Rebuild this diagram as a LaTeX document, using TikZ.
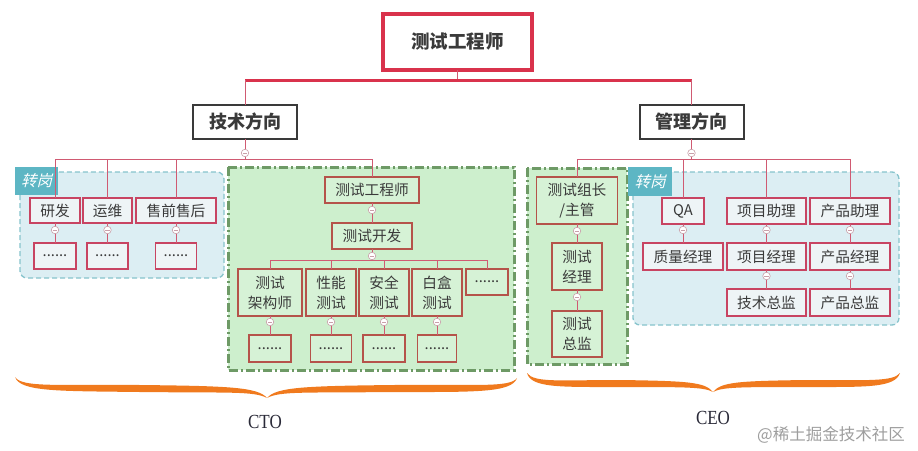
\documentclass[tikz,border=0pt]{standalone}
\usepackage{fontspec}
\setmainfont{Liberation Serif}
\newfontfamily\cjk{Noto Sans CJK SC}
\newfontfamily\cjksl[FakeSlant=0.25]{Noto Sans CJK SC}
\usetikzlibrary{calc}
\definecolor{topred}{HTML}{D9324C}
\definecolor{lnk}{HTML}{D05A72}
\definecolor{boxred}{HTML}{C84462}
\definecolor{boxfill}{HTML}{EEF4F6}
\definecolor{bluefill}{HTML}{DCEEF3}
\definecolor{blueline}{HTML}{86C3CC}
\definecolor{tagfill}{HTML}{5DB6C4}
\definecolor{gfill}{HTML}{CDEFCD}
\definecolor{gline}{HTML}{6E9A66}
\definecolor{gred}{HTML}{B5534A}
\definecolor{gboxfill}{HTML}{D6F2D6}
\definecolor{txt}{HTML}{3A3A3A}
\definecolor{lbltxt}{HTML}{2A2A38}
\definecolor{braceor}{HTML}{F07A1E}
\definecolor{mcol}{HTML}{C9A0AA}
\begin{document}
\begin{tikzpicture}[x=1pt,y=-1pt,
  box/.style={draw=boxred, fill=boxfill, line width=1.1pt, inner sep=0pt, outer sep=0pt,
    font={\cjk\fontsize{14.7}{20}\selectfont}, text=txt, align=center},
  gbox/.style={box, draw=gred, fill=gboxfill},
  sz/.style 2 args={minimum width=#1, minimum height=#2},
  lvl1/.style={draw=txt, fill=white, line width=2pt, inner sep=0pt, outer sep=0pt,
    font={\cjk\bfseries\fontsize{18}{22}\selectfont}, text=txt, minimum width=104, minimum height=34},
  topbox/.style={draw=topred, fill=white, line width=4pt, inner sep=0pt, outer sep=0pt,
    font={\cjk\bfseries\fontsize{18.5}{22}\selectfont}, text=txt, minimum width=149, minimum height=56},
  conn/.style={draw=lnk, line width=1pt},
  minus/.style={circle, draw=mcol, fill=white, minimum size=7.5pt, inner sep=0pt, line width=0.6pt,
    path picture={\draw[mcol, line width=0.6pt] ([xshift=1.6pt]path picture bounding box.west) -- ([xshift=-1.6pt]path picture bounding box.east);}},
  tag/.style={fill=tagfill, text=white, inner sep=0pt, outer sep=0pt,
    font={\cjksl\fontsize{15.5}{18}\selectfont}},
  bluereg/.style={draw=blueline, fill=bluefill, dashed, dash pattern=on 5pt off 3pt, line width=1.3pt, rounded corners=7pt},
  greenreg/.style={draw=gline, fill=gfill, line width=3pt, dash pattern=on 9pt off 3pt on 2pt off 3pt},
  bracefill/.style={fill=braceor, draw=none},
  lbl/.style={font={\fontsize{20}{22}\selectfont}, text=lbltxt, inner sep=0pt, xscale=0.85},
]
\useasboundingbox (0,0) rectangle (918,450);

% ---------- regions ----------
\draw[bluereg] (20,172) rectangle (224,278);
\draw[greenreg] (228,167) rectangle (514,370);
\draw[greenreg] (527,168) rectangle (627,364);
\draw[bluereg] (633,172) rectangle (899,325);
\node[tag, minimum width=43, minimum height=28] (tagL) at (36.5,181) {转岗};
\node[tag, minimum width=44, minimum height=29] (tagR) at (650,181.5) {转岗};

% ---------- nodes ----------
\node[topbox] (top) at (457.5,42) {测试工程师};
\node[lvl1] (tech) at (245,122) {技术方向};
\node[lvl1] (mgmt) at (691.5,122) {管理方向};

% left blue
\node[box, sz={50}{25}] (yf) at (55,210.5) {研发};
\node[box, sz={49}{25}] (yw) at (107.5,210.5) {运维};
\node[box, sz={80}{25}] (sq) at (176,210.5) {售前售后};
\node[box, sz={42}{26}] (yfc) at (55,256) {......};
\node[box, sz={41}{26}] (ywc) at (107.5,256) {......};
\node[box, sz={41}{26}] (sqc) at (176,256) {......};

% middle green
\node[gbox, sz={94}{26}] (ge) at (372,190) {测试工程师};
\node[gbox, sz={80}{26}] (kf) at (372,236) {测试开发};
\node[gbox, sz={64}{47}] (jg) at (270,292.5) {测试\\架构师};
\node[gbox, sz={50}{47}] (xn) at (331,292.5) {性能\\测试};
\node[gbox, sz={50}{47}] (aq) at (384,292.5) {安全\\测试};
\node[gbox, sz={50}{47}] (bh) at (437,292.5) {白盒\\测试};
\node[gbox, sz={42}{26}] (et) at (487,282) {......};
\node[gbox, sz={42}{27}] (jgc) at (270,348.5) {......};
\node[gbox, sz={41}{27}] (xnc) at (331,348.5) {......};
\node[gbox, sz={42}{27}] (aqc) at (384,348.5) {......};
\node[gbox, sz={39}{27}] (bhc) at (437,348.5) {......};

% right green
\node[gbox, sz={81}{47}] (zz) at (577,200.5) {测试组长\\/主管};
\node[gbox, sz={50}{47}] (jl) at (577,266.5) {测试\\经理};
\node[gbox, sz={50}{46}] (zj) at (577,334) {测试\\总监};

% right blue
\node[box, sz={42}{26}] (qa) at (683,211) {QA};
\node[box, sz={79}{26}] (xmzl) at (766.5,211) {项目助理};
\node[box, sz={80}{26}] (cpzl) at (850,211) {产品助理};
\node[box, sz={80}{27}] (zljl) at (683,256.5) {质量经理};
\node[box, sz={79}{27}] (xmjl) at (766.5,256.5) {项目经理};
\node[box, sz={80}{27}] (cpjl) at (850,256.5) {产品经理};
\node[box, sz={79}{27}] (jszj) at (766.5,302.5) {技术总监};
\node[box, sz={80}{27}] (cpzj) at (850,302.5) {产品总监};

% ---------- connectors ----------
\coordinate (bus0) at (457.5,80);
\draw[conn] (top.south) -- (bus0);
\draw[topred, line width=3pt] (tech.north |- bus0) -- (mgmt.north |- bus0);
\draw[conn] (tech.north |- bus0) -- (tech.north);
\draw[conn] (mgmt.north |- bus0) -- (mgmt.north);

\foreach \c in {yf,yw,sq,ge} \draw[conn] (tech.south) -- ++(0,20) -| (\c.north);
\foreach \c in {zz,qa,xmzl,cpzl} \draw[conn] (mgmt.south) -- ++(0,20) -| (\c.north);
\draw[conn] (yf) -- (yfc);
\draw[conn] (yw) -- (ywc);
\draw[conn] (sq.south) -- (sq.south |- sqc.north);
\draw[conn] (ge) -- (kf);
\foreach \c in {jg,xn,aq,bh,et} \draw[conn] (kf.south) -- ++(0,11) -| (\c.north);
\draw[conn] (jg) -- (jgc);
\draw[conn] (xn) -- (xnc);
\draw[conn] (aq) -- (aqc);
\draw[conn] (bh) -- (bhc);
\draw[conn] (zz) -- (jl);
\draw[conn] (jl) -- (zj);
\draw[conn] (qa) -- (zljl);
\draw[conn] (xmzl) -- (xmjl);
\draw[conn] (xmjl) -- (jszj);
\draw[conn] (cpzl) -- (cpjl);
\draw[conn] (cpjl) -- (cpzj);

% ---------- collapse markers ----------
\node[minus] (m1) at (245,153) {};
\node[minus] (m2) at (691.5,153) {};
\node[minus] (m3) at (55,230) {};
\node[minus] (m4) at (107.5,230) {};
\node[minus] (m5) at (176,230) {};
\node[minus] (m6) at (372,210) {};
\node[minus] (m7) at (372,256) {};
\node[minus] (m8) at (270,322) {};
\node[minus] (m9) at (331,322) {};
\node[minus] (m10) at (384,322) {};
\node[minus] (m11) at (437,322) {};
\node[minus] (m12) at (577,231) {};
\node[minus] (m13) at (577,297) {};
\node[minus] (m14) at (683,230) {};
\node[minus] (m15) at (766.5,230) {};
\node[minus] (m16) at (850,230) {};
\node[minus] (m17) at (766.5,276) {};
\node[minus] (m18) at (850,276) {};

% ---------- braces ----------
\fill[bracefill] (15,377) .. controls (22,388) and (60,384) .. (140,385)
  .. controls (228,386) and (258,387) .. (267,398)
  .. controls (276,387) and (306,386) .. (394,385)
  .. controls (474,384) and (510,388) .. (517,378)
  .. controls (512,393) and (474,392) .. (394,392)
  .. controls (304,393) and (280,391) .. (267,398)
  .. controls (254,391) and (230,393) .. (140,392)
  .. controls (60,391) and (20,392) .. (15,377) -- cycle;
\fill[bracefill] (527,373) .. controls (534,383) and (560,380) .. (620,380)
  .. controls (688,381) and (705,382) .. (713,392)
  .. controls (721,382) and (738,381) .. (806,380)
  .. controls (866,380) and (893,382) .. (900,373)
  .. controls (895,388) and (866,387) .. (806,387)
  .. controls (740,387) and (722,387) .. (713,392)
  .. controls (704,387) and (686,387) .. (620,387)
  .. controls (560,387) and (531,388) .. (527,373) -- cycle;
\node[lbl] (cto) at (265,422) {CTO};
\node[lbl] (ceo) at (713,418) {CEO};
\node[font={\cjk\fontsize{16.5}{20}\selectfont}, text=black!38, inner sep=0pt] (wm) at (831,435) {@稀土掘金技术社区};
\end{tikzpicture}
\end{document}
